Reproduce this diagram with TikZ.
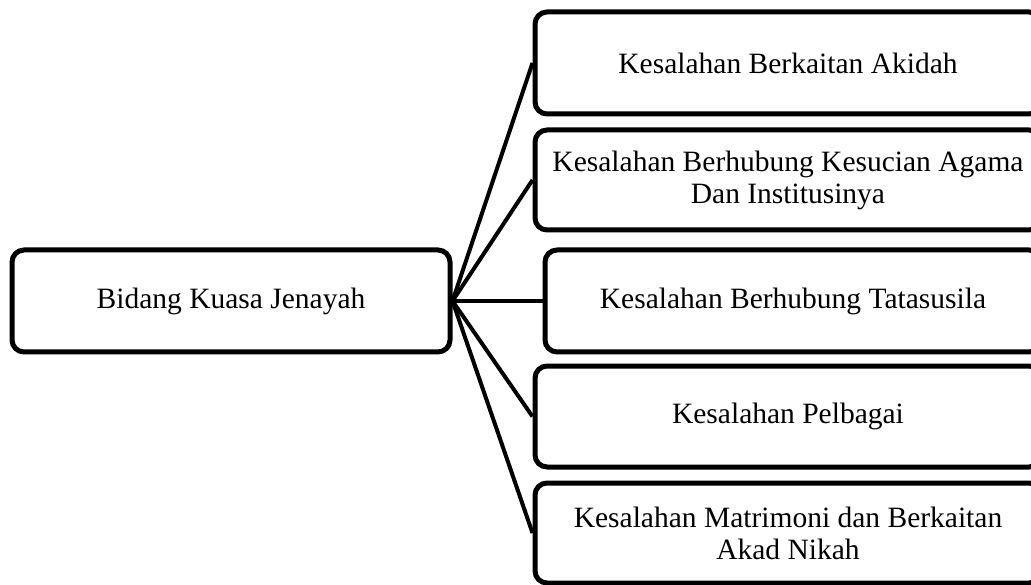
\documentclass[tikz,border=0pt]{standalone}
\usepackage{fontspec}
\setmainfont{Liberation Serif}
\begin{document}
\begin{tikzpicture}[x=1pt,y=-1pt,
  box/.style={draw=black,line width=5pt,rounded corners=12pt,align=center,inner sep=0pt,
    font=\fontsize{29.5}{32}\selectfont},
  link/.style={draw=black,line width=4pt}]
\useasboundingbox (0,0) rectangle (1031,585);
\clip (0,0) rectangle (1031,585);
\node[box,minimum width=438pt,minimum height=102pt] (L) at (231,301) {Bidang Kuasa Jenayah};
\node[box,minimum width=506pt,minimum height=102pt] (B1) at (788,63) {Kesalahan Berkaitan Akidah};
\node[box,minimum width=506pt,minimum height=100pt] (B2) at (788,180) {Kesalahan Berhubung Kesucian Agama\\Dan Institusinya};
\node[box,minimum width=496pt,minimum height=102pt] (B3) at (793,301) {Kesalahan Berhubung Tatasusila};
\node[box,minimum width=506pt,minimum height=101pt] (B4) at (788,416.5) {Kesalahan Pelbagai};
\node[box,minimum width=506pt,minimum height=100pt] (B5) at (788,533) {Kesalahan Matrimoni dan Berkaitan\\Akad Nikah};
\foreach \b in {B1,B2,B3,B4,B5}
  \draw[link] (L.east) -- (\b.west);
\end{tikzpicture}
\end{document}
